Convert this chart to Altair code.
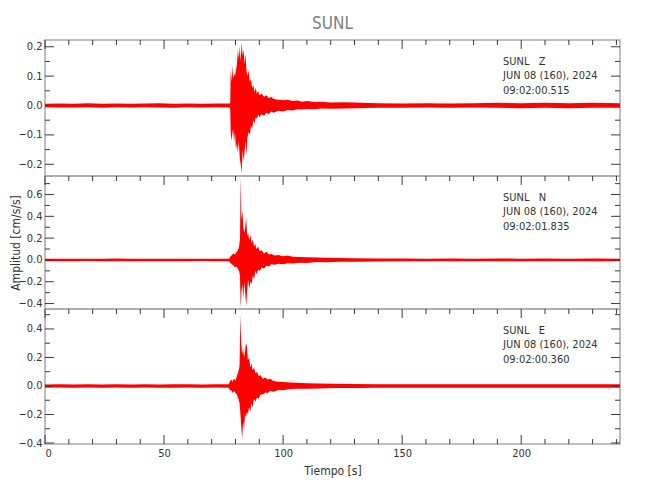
import altair as alt
import pandas as pd

FONT = "DejaVu Sans Condensed, Liberation Sans Narrow, DejaVu Sans, sans-serif"
RED = "#ff0000"
TICK = "#3a3a3a"
TXT = "#333333"

# ---------------- data ----------------
X_DOMAIN = [0, 241.5]
x_major = [0, 50, 100, 150, 200]
x_minor = [10, 20, 30, 40, 60, 70, 80, 90, 110, 120, 130, 140, 160, 170, 180,
           190, 210, 220, 230, 240]

# Z component: time (s), upper and lower envelope (cm/s/s)
z_t = [0, 6, 12, 18, 24, 30, 36, 42, 48, 54, 60, 66, 72, 77.5,
       77.8, 78.0, 78.3, 78.6, 79.0, 79.4, 79.8, 80.2, 80.6, 81.0, 81.4, 81.8,
       82.2, 82.6, 83.0, 83.4, 83.8, 84.2, 84.6, 85.0,
       85.5, 86.0, 86.5, 87.0, 87.5, 88.0, 88.5, 89.0, 89.5, 90.0,
       91, 92, 93, 94, 95, 96, 98, 100, 102, 104, 106, 108, 110, 113, 116, 120, 125, 130,
       140, 150, 160, 170, 180, 190, 200, 210, 220, 230, 241.5]
z_hi = [0.006, 0.007, 0.006, 0.008, 0.006, 0.007, 0.006, 0.007, 0.008, 0.006, 0.007, 0.006, 0.007, 0.007,
        0.01, 0.12, 0.08, 0.135, 0.09, 0.11, 0.10, 0.12, 0.14, 0.19, 0.16, 0.20,
        0.15, 0.215, 0.17, 0.19, 0.14, 0.175, 0.12, 0.10,
        0.12, 0.08, 0.09, 0.06, 0.07, 0.045, 0.06, 0.04, 0.05, 0.035,
        0.04, 0.03, 0.035, 0.025, 0.03, 0.022, 0.02, 0.018, 0.02, 0.015, 0.017, 0.013, 0.015, 0.012, 0.013, 0.01, 0.011, 0.01,
        0.008, 0.007, 0.008, 0.007, 0.008, 0.009, 0.008, 0.009, 0.008, 0.009, 0.008]
z_lo = [-0.006, -0.007, -0.007, -0.006, -0.008, -0.006, -0.007, -0.006, -0.007, -0.008, -0.006, -0.007, -0.006, -0.007,
        -0.01, -0.09, -0.12, -0.10, -0.08, -0.125, -0.09, -0.15, -0.13, -0.16, -0.12, -0.18,
        -0.20, -0.23, -0.15, -0.19, -0.16, -0.12, -0.17, -0.11,
        -0.09, -0.10, -0.07, -0.08, -0.05, -0.06, -0.04, -0.045, -0.03, -0.04,
        -0.03, -0.035, -0.025, -0.03, -0.02, -0.025, -0.018, -0.02, -0.015, -0.017, -0.013, -0.014, -0.012, -0.013, -0.01, -0.011, -0.01, -0.009,
        -0.008, -0.008, -0.007, -0.008, -0.007, -0.008, -0.009, -0.008, -0.009, -0.008, -0.008]

# N component
n_t = [0, 6, 12, 18, 24, 30, 36, 42, 48, 54, 60, 66, 72, 77.3,
       77.8, 78.5, 79.2, 79.8, 80.4, 81.0, 81.5, 81.9, 82.2, 82.5, 82.9, 83.3, 83.7,
       84.1, 84.5, 84.9, 85.3, 85.8, 86.3, 86.8, 87.3, 87.8, 88.3, 88.8, 89.5, 90.2,
       91, 92, 93, 94, 95, 96.5, 98, 100, 102, 104, 107, 110, 114, 118, 124, 130,
       140, 150, 160, 170, 180, 190, 200, 210, 220, 230, 241.5]
n_hi = [0.011, 0.012, 0.010, 0.012, 0.011, 0.013, 0.011, 0.012, 0.010, 0.012, 0.011, 0.012, 0.011, 0.012,
        0.03, 0.045, 0.06, 0.05, 0.07, 0.09, 0.12, 0.2, 0.76, 0.37, 0.45, 0.3, 0.25,
        0.3, 0.39, 0.22, 0.25, 0.18, 0.23, 0.15, 0.19, 0.12, 0.15, 0.1, 0.12, 0.08,
        0.09, 0.06, 0.075, 0.05, 0.055, 0.04, 0.045, 0.035, 0.04, 0.03, 0.028, 0.025, 0.022, 0.02, 0.018, 0.016,
        0.014, 0.013, 0.012, 0.013, 0.012, 0.013, 0.012, 0.013, 0.012, 0.013, 0.012]
n_lo = [-0.012, -0.011, -0.012, -0.010, -0.012, -0.011, -0.012, -0.011, -0.013, -0.011, -0.012, -0.010, -0.012, -0.011,
        -0.025, -0.04, -0.05, -0.07, -0.06, -0.08, -0.1, -0.15, -0.44, -0.3, -0.22, -0.35, -0.2,
        -0.3, -0.42, -0.28, -0.18, -0.26, -0.2, -0.22, -0.14, -0.18, -0.1, -0.13, -0.09, -0.1,
        -0.07, -0.08, -0.05, -0.06, -0.04, -0.045, -0.035, -0.04, -0.03, -0.032, -0.025, -0.027, -0.02, -0.022, -0.017, -0.016,
        -0.014, -0.012, -0.013, -0.012, -0.013, -0.012, -0.013, -0.012, -0.013, -0.012, -0.012]

# E component
e_t = [0, 6, 12, 18, 24, 30, 36, 42, 48, 54, 60, 66, 72, 77.2,
       77.6, 78.2, 78.8, 79.4, 80.0, 80.6, 81.2, 81.7, 82.1, 82.4, 82.8, 83.2, 83.6,
       84.0, 84.4, 84.8, 85.2, 85.7, 86.2, 86.7, 87.2, 87.8, 88.4, 89.0, 89.7, 90.5,
       91.5, 92.5, 93.5, 94.5, 96, 98, 100, 103, 106, 110, 115, 122, 130,
       140, 150, 160, 170, 180, 190, 200, 210, 220, 230, 241.5]
e_hi = [0.011, 0.012, 0.011, 0.013, 0.011, 0.012, 0.010, 0.012, 0.011, 0.012, 0.013, 0.011, 0.012, 0.012,
        0.03, 0.045, 0.03, 0.05, 0.04, 0.07, 0.1, 0.14, 0.5, 0.3, 0.22, 0.27, 0.2,
        0.24, 0.3, 0.28, 0.18, 0.2, 0.13, 0.16, 0.11, 0.13, 0.09, 0.1, 0.07, 0.075,
        0.05, 0.06, 0.045, 0.05, 0.035, 0.03, 0.028, 0.025, 0.022, 0.02, 0.018, 0.016, 0.014,
        0.013, 0.012, 0.013, 0.012, 0.013, 0.012, 0.013, 0.012, 0.013, 0.012, 0.012]
e_lo = [-0.012, -0.011, -0.012, -0.011, -0.013, -0.011, -0.012, -0.011, -0.012, -0.013, -0.011, -0.012, -0.011, -0.012,
        -0.03, -0.03, -0.05, -0.035, -0.05, -0.06, -0.09, -0.12, -0.2, -0.28, -0.37, -0.25, -0.3,
        -0.2, -0.22, -0.18, -0.2, -0.15, -0.18, -0.12, -0.15, -0.09, -0.11, -0.08, -0.09, -0.06,
        -0.06, -0.045, -0.05, -0.035, -0.04, -0.028, -0.03, -0.022, -0.02, -0.02, -0.017, -0.015, -0.014,
        -0.013, -0.012, -0.013, -0.012, -0.013, -0.012, -0.013, -0.012, -0.013, -0.012, -0.012]

# axis domains and ticks
z_dom = [-0.240, 0.223]
n_dom = [-0.45, 0.77]
e_dom = [-0.407, 0.54]
z_labels = [-0.2, -0.1, 0.0, 0.1, 0.2]
z_minor = [-0.15, -0.05, 0.05, 0.15]
n_labels = [-0.4, -0.2, 0.0, 0.2, 0.4, 0.6]
n_minor = [-0.3, -0.1, 0.1, 0.3, 0.5, 0.7]
e_labels = [-0.4, -0.2, 0.0, 0.2, 0.4]
e_minor = [-0.3, -0.1, 0.1, 0.3, 0.5]

z_annot = "SUNL\u00a0\u00a0\u00a0Z\nJUN 08 (160), 2024\n09:02:00.515"
n_annot = "SUNL\u00a0\u00a0\u00a0N\nJUN 08 (160), 2024\n09:02:01.835"
e_annot = "SUNL\u00a0\u00a0\u00a0E\nJUN 08 (160), 2024\n09:02:00.360"

W = 575
MAJ, MIN = 9, 5


def panel(t, hi, lo, ydom, h, ylab, yminor, annot, xaxis_on, ytitle):
    assert len(t) == len(hi) == len(lo)
    xs = alt.Scale(domain=X_DOMAIN, nice=False, zero=False)
    ys = alt.Scale(domain=ydom, nice=False, zero=False)
    if xaxis_on:
        xa = alt.Axis(values=x_major, format="d", ticks=False, domain=False, grid=False,
                      labelPadding=3, title="Tiempo [s]", titlePadding=7)
    else:
        xa = None
    yargs = dict(values=ylab, format=".1f", ticks=False, domain=False, grid=False,
                 labelPadding=3)
    if ytitle:
        yargs.update(title=ytitle, titleX=-30, titleY=h / 2, titleAlign="center",
                     titleBaseline="middle")
    else:
        yargs.update(title=None)
    ya = alt.Axis(**yargs)

    df = pd.DataFrame({"t": t, "hi": hi, "lo": lo})
    wave = alt.Chart(df).mark_area(color=RED, clip=True).encode(
        x=alt.X("t:Q", scale=xs, axis=xa),
        y=alt.Y("hi:Q", scale=ys, axis=ya),
        y2="lo:Q",
    )

    def xt(vals, y0, y1):
        return alt.Chart(pd.DataFrame({"v": vals})).mark_rule(color=TICK, strokeWidth=1).encode(
            x=alt.X("v:Q", scale=xs, axis=xa), y=alt.value(y0), y2=alt.value(y1))

    def yt(vals, x0, x1):
        return alt.Chart(pd.DataFrame({"v": vals})).mark_rule(color=TICK, strokeWidth=1).encode(
            y=alt.Y("v:Q", scale=ys, axis=ya), x=alt.value(x0), x2=alt.value(x1))

    layers = [wave,
              xt(x_major, 0, MAJ), xt(x_minor, 0, MIN),
              yt(ylab, 0, MAJ), yt(yminor, 0, MIN),
              yt(ylab, W, W - MAJ), yt(yminor, W, W - MIN)]
    if xaxis_on:
        layers += [xt(x_major, h, h - MAJ), xt(x_minor, h, h - MIN)]

    txt = alt.Chart(pd.DataFrame({"s": [annot]})).mark_text(
        align="left", baseline="top", lineBreak="\n", lineHeight=14.3,
        font=FONT, fontSize=11, color=TXT).encode(
        x=alt.value(458), y=alt.value(16), text="s:N")
    layers.append(txt)
    return alt.layer(*layers).properties(width=W, height=h)


p1 = panel(z_t, z_hi, z_lo, z_dom, 136, z_labels, z_minor, z_annot, False, None)
p2 = panel(n_t, n_hi, n_lo, n_dom, 133, n_labels, n_minor, n_annot, False, "Amplitud [cm/s/s]")
p3 = panel(e_t, e_hi, e_lo, e_dom, 135, e_labels, e_minor, e_annot, True, None)

chart = alt.vconcat(p1, p2, p3, spacing=0, bounds="flush").properties(
    title=alt.TitleParams(text="SUNL", font=FONT, fontSize=17, fontWeight="normal",
                          color="#808080", offset=6, anchor="middle", frame="group"),
    padding={"left": 0, "top": 6, "right": 10, "bottom": 5},
).configure_view(
    stroke="#a8a8a8", strokeWidth=1.5
).configure_axis(
    labelFont=FONT, labelFontSize=11, labelColor=TXT,
    titleFont=FONT, titleFontSize=12, titleColor=TXT, titleFontWeight="normal"
)

chart.save("out.html", embed_options={"renderer": "svg", "actions": False})
